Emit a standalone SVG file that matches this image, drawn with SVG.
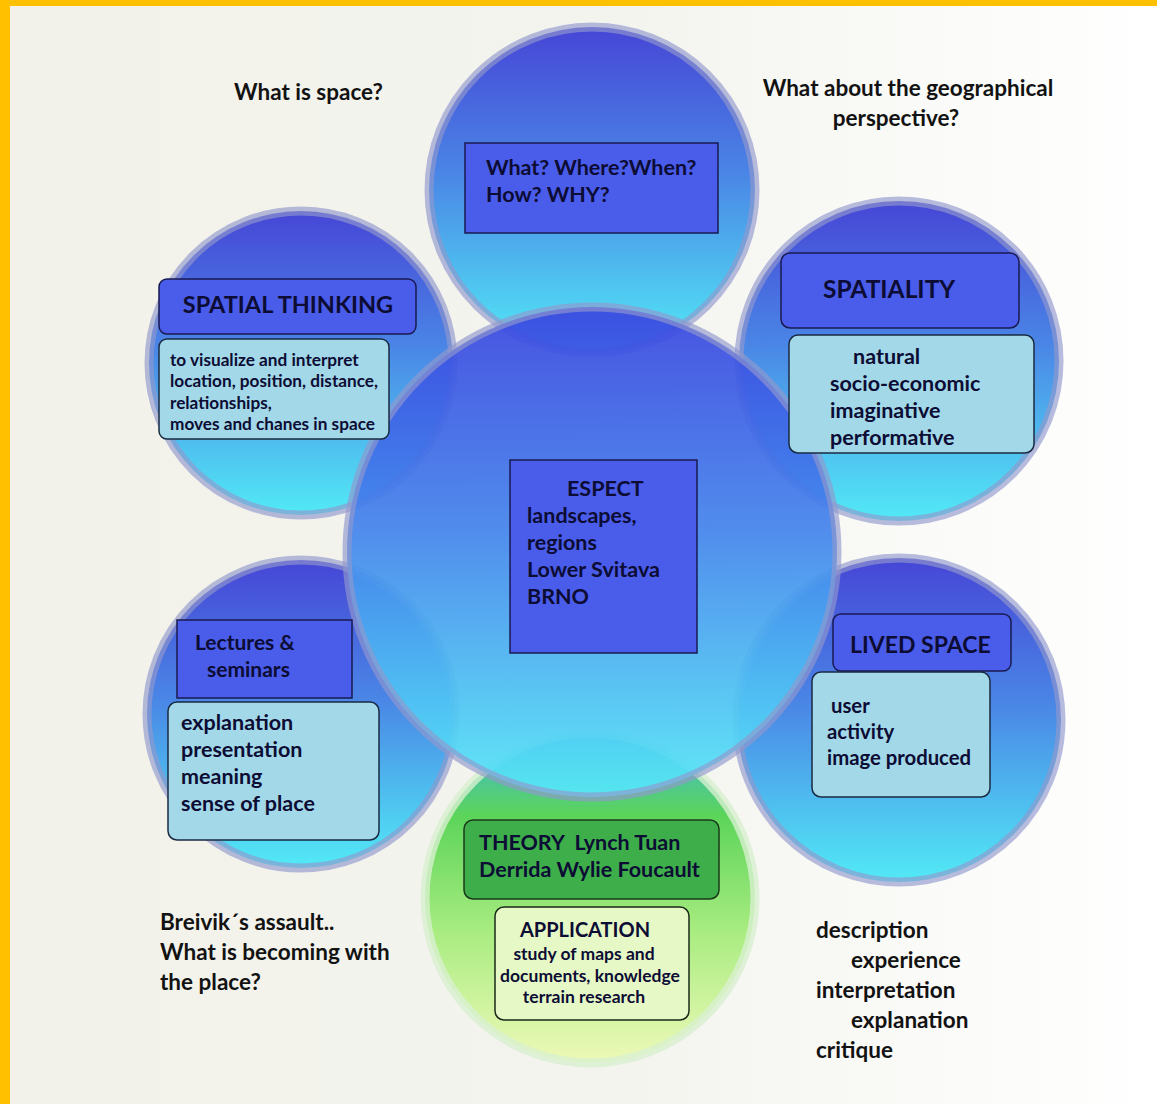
<svg xmlns="http://www.w3.org/2000/svg" width="1157" height="1104" viewBox="0 0 1157 1104">
<defs>
<linearGradient id="bg" x1="0" y1="0" x2="1" y2="0">
<stop offset="0" stop-color="#F2F2EA"/>
<stop offset="0.55" stop-color="#F4F4EF"/>
<stop offset="1" stop-color="#FFFFFF"/>
</linearGradient>
<linearGradient id="blue" x1="0" y1="0" x2="0" y2="1">
<stop offset="0" stop-color="#4646D6"/>
<stop offset="0.45" stop-color="#4A86E6"/>
<stop offset="1" stop-color="#52EAF6"/>
</linearGradient>
<linearGradient id="center" x1="0" y1="0" x2="0" y2="1">
<stop offset="0" stop-color="#3A46E0"/>
<stop offset="0.45" stop-color="#4484EC"/>
<stop offset="1" stop-color="#56E8F8"/>
</linearGradient>
<linearGradient id="green" x1="0" y1="0" x2="0" y2="1">
<stop offset="0" stop-color="#3CB8E0"/>
<stop offset="0.25" stop-color="#5CD45A"/>
<stop offset="0.6" stop-color="#A8EC80"/>
<stop offset="1" stop-color="#EEF9B8"/>
</linearGradient>
<style>
.ring{stroke:#9298CC;stroke-opacity:0.65;stroke-width:9}
.gring{stroke:#D8F0D0;stroke-opacity:0.8;stroke-width:9}
.hdr{fill:#4A5CEA;stroke:#1A1A50;stroke-width:1.5}
.sub{fill:#A2D8E8;stroke:#1A2A40;stroke-width:1.5}
.t{font-family:Lato,"Liberation Sans",sans-serif;font-weight:bold;fill:#0C0C34}
.f{font-family:Lato,"Liberation Sans",sans-serif;font-weight:bold;fill:#121212}
</style>
</defs>
<rect x="0" y="0" width="1157" height="1104" fill="url(#bg)"/>
<rect x="0" y="0" width="10" height="1104" fill="#FFC000"/>
<rect x="0" y="0" width="1157" height="6" fill="#FFC000"/>

<g id="connectors"></g>

<g id="circle-top"><circle cx="592" cy="190" r="163" fill="url(#blue)" class="ring"/></g>
<g id="circle-top-left"><circle cx="301" cy="363" r="152" fill="url(#blue)" class="ring"/></g>
<g id="circle-top-right"><circle cx="899" cy="361" r="160" fill="url(#blue)" class="ring"/></g>
<g id="circle-bottom-left"><circle cx="301" cy="714" r="154" fill="url(#blue)" class="ring"/></g>
<g id="circle-bottom-right"><circle cx="899" cy="720" r="162" fill="url(#blue)" class="ring"/></g>
<g id="circle-bottom"><circle cx="590" cy="898" r="165" fill="url(#green)" class="gring"/></g>
<g id="circle-center"><circle cx="592" cy="552" r="245" fill="url(#center)" fill-opacity="0.93" class="ring"/></g>

<g id="q-space"><text class="f" x="234" y="100" font-size="22.5">What is space?</text></g>
<g id="q-geo"><text class="f" font-size="22.5" text-anchor="middle"><tspan x="908" y="96">What about the geographical</tspan><tspan x="896" y="126">perspective?</tspan></text></g>

<g id="node-questions">
<rect class="hdr" x="465" y="143" width="253" height="90"/>
<text class="t" font-size="21.5"><tspan x="486" y="175">What? Where?When?</tspan><tspan x="486" y="202">How? WHY?</tspan></text>
</g>

<g id="node-spatial-thinking">
<rect class="hdr" x="159" y="279" width="257" height="55" rx="8"/>
<text class="t" x="288" y="313" font-size="23.5" text-anchor="middle">SPATIAL THINKING</text>
<rect class="sub" x="159" y="339" width="230" height="100" rx="8"/>
<text class="t" font-size="17.2"><tspan x="170" y="366">to visualize and interpret</tspan><tspan x="170" y="387">location, position, distance,</tspan><tspan x="170" y="409">relationships,</tspan><tspan x="170" y="430">moves and chanes in space</tspan></text>
</g>

<g id="node-spatiality">
<rect class="hdr" x="781" y="253" width="238" height="75" rx="9"/>
<text class="t" x="823" y="298" font-size="24.5">SPATIALITY</text>
<rect class="sub" x="789" y="335" width="245" height="118" rx="9"/>
<text class="t" font-size="21.5"><tspan x="853" y="364">natural</tspan><tspan x="830" y="391">socio-economic</tspan><tspan x="830" y="418">imaginative</tspan><tspan x="830" y="445">performative</tspan></text>
</g>

<g id="node-espect">
<rect class="hdr" x="510" y="460" width="187" height="193"/>
<text class="t" font-size="21.5"><tspan x="567" y="496">ESPECT</tspan><tspan x="527" y="523">landscapes,</tspan><tspan x="527" y="550">regions</tspan><tspan x="527" y="577">Lower Svitava</tspan><tspan x="527" y="604">BRNO</tspan></text>
</g>

<g id="node-lectures">
<rect class="hdr" x="177" y="620" width="175" height="78"/>
<text class="t" font-size="21"><tspan x="195" y="650">Lectures &amp;</tspan><tspan x="207" y="677">seminars</tspan></text>
<rect class="sub" x="168" y="702" width="211" height="138" rx="9"/>
<text class="t" font-size="21.5"><tspan x="181" y="730">explanation</tspan><tspan x="181" y="757">presentation</tspan><tspan x="181" y="784">meaning</tspan><tspan x="181" y="811">sense of place</tspan></text>
</g>

<g id="node-lived-space">
<rect class="hdr" x="833" y="614" width="178" height="57" rx="8"/>
<text class="t" x="850" y="653" font-size="23">LIVED SPACE</text>
<rect class="sub" x="812" y="672" width="178" height="125" rx="9"/>
<text class="t" font-size="20.3"><tspan x="831" y="713">user</tspan><tspan x="827" y="739">activity</tspan><tspan x="827" y="765">image produced</tspan></text>
</g>

<g id="node-theory">
<rect x="464" y="820" width="255" height="79" rx="9" fill="#3DAE4A" stroke="#1A3A1A" stroke-width="1.5"/>
<text class="t" font-size="21.5" fill="#0C1A0C" xml:space="preserve"><tspan x="479" y="850">THEORY  Lynch Tuan</tspan><tspan x="479" y="877">Derrida Wylie Foucault</tspan></text>
</g>

<g id="node-application">
<rect x="495" y="907" width="194" height="113" rx="9" fill="#E6F8C6" stroke="#1A2A1A" stroke-width="1.5"/>
<text class="t" text-anchor="middle" fill="#101010"><tspan x="585" y="937" font-size="20">APPLICATION</tspan><tspan x="584" y="960" font-size="17.5">study of maps and</tspan><tspan x="590" y="982" font-size="17.5">documents, knowledge</tspan><tspan x="584" y="1003" font-size="17.5">terrain research</tspan></text>
</g>

<g id="q-breivik"><text class="f" font-size="22.5"><tspan x="160" y="930">Breivik´s assault..</tspan><tspan x="160" y="960">What is becoming with</tspan><tspan x="160" y="990">the place?</tspan></text></g>

<g id="list-method"><text class="f" font-size="22.5"><tspan x="816" y="938">description</tspan><tspan x="851" y="968">experience</tspan><tspan x="816" y="998">interpretation</tspan><tspan x="851" y="1028">explanation</tspan><tspan x="816" y="1058">critique</tspan></text></g>
</svg>
